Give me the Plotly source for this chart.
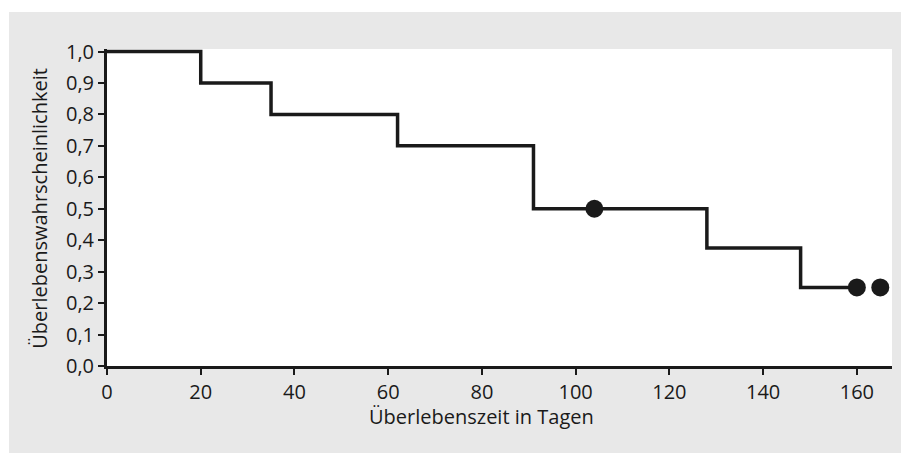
import plotly.graph_objects as go

# Kaplan-Meier step data
times = [0, 20, 35, 62, 91, 128, 148, 160]
survival = [1.0, 0.9, 0.8, 0.7, 0.5, 0.375, 0.25, 0.25]
censor_times = [104, 160, 165]
censor_survival = [0.5, 0.25, 0.25]
x_ticks = [0, 20, 40, 60, 80, 100, 120, 140, 160]
y_ticks = [0.0, 0.1, 0.2, 0.3, 0.4, 0.5, 0.6, 0.7, 0.8, 0.9, 1.0]
x_title = "Überlebenszeit in Tagen"
y_title = "Überlebenswahrscheinlichkeit"

W, H = 901, 453
L, R, T, B = 107, 9, 49, 87
pw, ph = W - L - R, H - T - B

ink = "#1a1a1a"
txt = "#1a1a1a"
font_family = "Open Sans"
fs = 20

fig = go.Figure()
fig.add_trace(go.Scatter(x=times, y=survival, mode="lines", line=dict(shape="hv", color=ink, width=3.5),
                         hoverinfo="skip", showlegend=False))
fig.add_trace(go.Scatter(x=censor_times, y=censor_survival, mode="markers",
                         marker=dict(color=ink, size=18, line=dict(width=0)), showlegend=False))

def px_x(p):
    return (p - L) / pw

def px_y(p):
    return (H - B - p) / ph

fig.add_shape(type="rect", xref="paper", yref="paper", x0=px_x(9), x1=px_x(905), y0=px_y(457), y1=px_y(12),
              fillcolor="#e8e8e8", line=dict(width=0), layer="below")
fig.add_shape(type="rect", xref="paper", yref="paper", x0=0, x1=1, y0=0, y1=1,
              fillcolor="white", line=dict(width=0), layer="below")

fig.add_annotation(text=x_title, xref="x", yref="paper", x=80, y=px_y(417), showarrow=False,
                   font=dict(size=fs, color=txt, family=font_family), xanchor="center", yanchor="middle")
fig.add_annotation(text=y_title, xref="paper", yref="y", x=px_x(40), y=0.5, showarrow=False, textangle=-90,
                   font=dict(size=fs, color=txt, family=font_family), xanchor="center", yanchor="middle")

axis_common = dict(showgrid=False, zeroline=False, showline=True, linecolor=ink, linewidth=3,
                   ticks="outside", ticklen=6, tickwidth=2, tickcolor=ink,
                   tickfont=dict(size=fs, color=txt, family=font_family))

fig.update_layout(
    width=W, height=H,
    margin=dict(l=L, r=R, t=T, b=B, pad=0),
    paper_bgcolor="white", plot_bgcolor="white",
    separators=",.",
    xaxis=dict(range=[0, 167.5], tickvals=x_ticks, **axis_common),
    yaxis=dict(range=[0, 1.008], tickvals=y_ticks, tickformat=".1f", **axis_common),
    font=dict(family=font_family),
)

fig.write_html("out.html", config={"displayModeBar": False},
               post_script="document.body.style.margin='0';document.body.style.padding='0';document.body.style.overflow='hidden';")
